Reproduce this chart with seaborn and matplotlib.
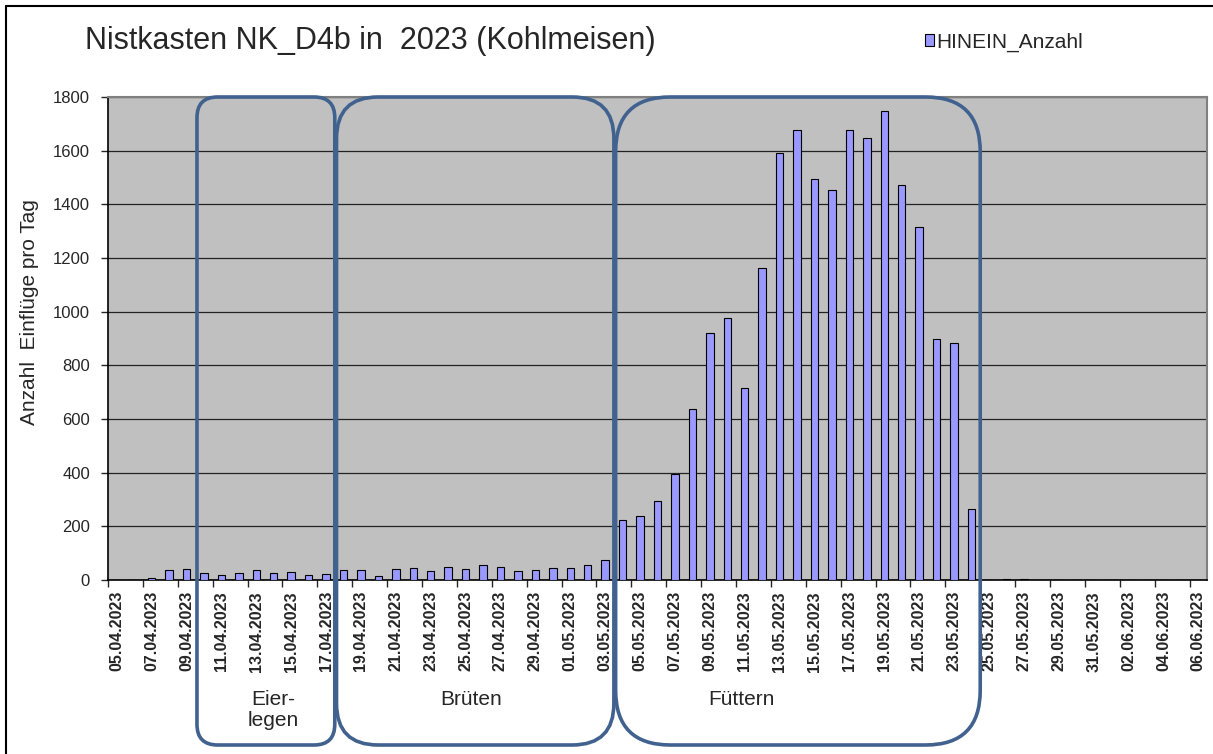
import numpy as np
import pandas as pd
import matplotlib
matplotlib.use("Agg")
import matplotlib.pyplot as plt
import seaborn as sns
from matplotlib.patches import FancyBboxPatch, Patch
from matplotlib.lines import Line2D

# daily data, 05.04.2023 - 06.06.2023
dates = pd.date_range("2023-04-05", "2023-06-06").strftime("%d.%m.%Y").tolist()
counts = [0, 0, 9, 37, 42, 26, 19, 26, 37, 26, 31, 19, 22, 37, 37, 15, 41, 45, 34, 49,
          41, 56, 49, 35, 37, 45,                      # April
          45, 56, 76, 225, 238, 296, 395, 638, 919, 975, 715, 1163, 1591, 1678, 1495,
          1454, 1678, 1646, 1746, 1471, 1315, 900, 885, 265, 0, 3, 4, 0, 0, 0, 0,  # May
          0, 0, 0, 0, 0, 0]                           # June
yticks = list(range(0, 1801, 200))

# breeding phases (first and last day)
phase_names = ["Eier-\nlegen", "Brüten", "Füttern"]
phase_first = ["10.04.2023", "18.04.2023", "04.05.2023"]
phase_last = ["17.04.2023", "03.05.2023", "24.05.2023"]

sns.set_style("white")
plt.rcParams["font.family"] = ["Liberation Sans", "DejaVu Sans"]

W, H = 1213, 754
fig = plt.figure(figsize=(W / 100, H / 100), dpi=100)
ax = fig.add_axes([108 / W, 1 - 580 / H, (1207 - 108) / W, (580 - 97) / H])

sns.barplot(x=dates, y=counts, color="#9999ff", saturation=1, edgecolor="black",
            linewidth=0.8, width=0.43, ax=ax, zorder=3)
ax.set_facecolor("#c0c0c0")
ax.set_xlim(-0.5, len(dates) - 0.5)
ax.set_ylim(0, 1800)
ax.set_yticks(yticks)
ax.set_yticklabels([str(v) for v in yticks], fontsize=12)
ax.yaxis.grid(True, color="#222222", lw=0.9)
ax.xaxis.grid(False)
ax.set_axisbelow(True)
ax.set_xlabel("")
ax.set_ylabel("")

idx = np.arange(0, len(dates), 2)
ax.set_xticks(idx - 0.5)
ax.set_xticklabels([])
ax.set_xticks(idx, minor=True)
ax.set_xticklabels([dates[i] for i in idx], minor=True, rotation=90,
                   fontsize=11.5, fontweight="bold")
ax.tick_params(axis="x", which="major", length=5, width=1, direction="out", bottom=True)
ax.tick_params(axis="x", which="minor", length=0, pad=8)
ax.tick_params(axis="y", length=5, width=1, direction="out", left=True, pad=8)

for s in ["left", "bottom"]:
    ax.spines[s].set_color("black")
    ax.spines[s].set_linewidth(1.2)
for s in ["top", "right"]:
    ax.spines[s].set_color("#808080")
    ax.spines[s].set_linewidth(1.5)

fig.text(85 / W, 1 - 41 / H, "Nistkasten NK_D4b in  2023 (Kohlmeisen)",
         fontsize=22, ha="left", va="center")
fig.text(30 / W, 1 - 312 / H, "Anzahl  Einflüge pro Tag", rotation=90,
         fontsize=15, ha="center", va="center")
fig.legend([Patch(facecolor="#9999ff", edgecolor="black", lw=0.8)], ["HINEIN_Anzahl"],
           loc="center left", bbox_to_anchor=(925 / W, 1 - 42 / H), frameon=False,
           handlelength=0.45, handleheight=0.55, handletextpad=0.1, fontsize=15,
           borderpad=0, borderaxespad=0)

# outer chart frame (left and top visible)
fig.add_artist(Line2D([6 / W, 6 / W], [0, 1 - 6 / H], transform=fig.transFigure,
                      color="black", lw=1.5))
fig.add_artist(Line2D([6 / W, 1], [1 - 6 / H, 1 - 6 / H], transform=fig.transFigure,
                      color="black", lw=1.5))

# rounded phase boxes, drawn in pixel coords on an overlay
ov = fig.add_axes([0, 0, 1, 1], zorder=5)
ov.set_xlim(0, W)
ov.set_ylim(H, 0)
ov.axis("off")
ov.patch.set_alpha(0)

label_at = [9.0, 20.3, 35.8]   # label centre, in category units
top_px = H - ax.bbox.y1
bottom_px = 745
for name, a, b, lx in zip(phase_names, phase_first, phase_last, label_at):
    x0 = ax.transData.transform((dates.index(a) - 0.4, 0))[0]
    x1 = ax.transData.transform((dates.index(b) + 0.5, 0))[0]
    w = x1 - x0
    h = bottom_px - top_px
    r = 0.15 * min(w, h)
    ov.add_patch(FancyBboxPatch((x0, top_px), w, h,
                                boxstyle=f"round,pad=0,rounding_size={r}",
                                fill=False, edgecolor="#41628e", lw=2.6))
    tx = ax.transData.transform((lx, 0))[0]
    ov.text(tx, 690, name, ha="center", va="top", fontsize=15, linespacing=1.1)

fig.savefig("out.png", dpi=100)
